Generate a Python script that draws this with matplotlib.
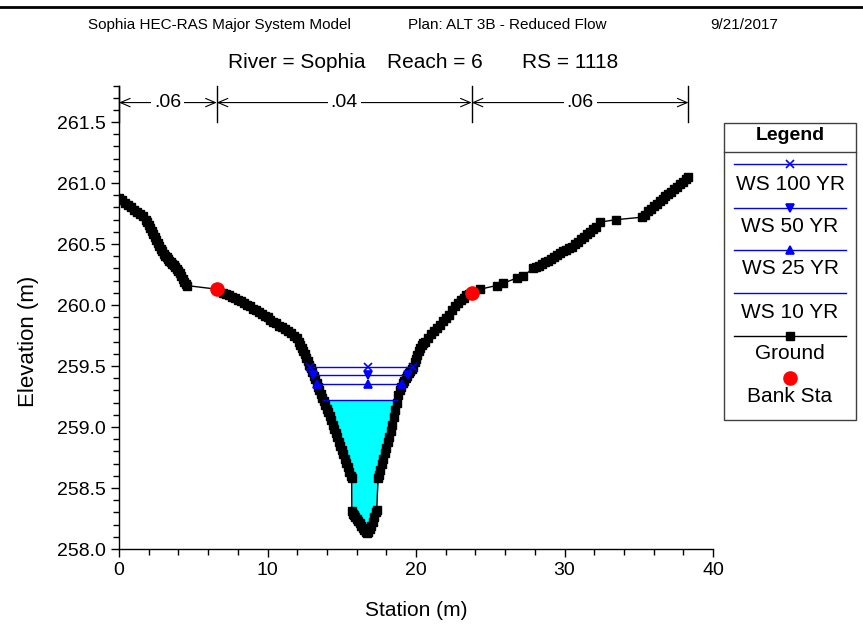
import numpy as np
import matplotlib
matplotlib.use("Agg")
import matplotlib.pyplot as plt
from matplotlib.lines import Line2D
from matplotlib.patches import Rectangle
from matplotlib.ticker import MultipleLocator, FormatStrFormatter

# ---------------- data ----------------
station = [0.0, 0.2, 0.4, 0.6, 0.8, 1.0, 1.2, 1.4, 1.6,
           1.8, 1.9, 2.0, 2.1, 2.2, 2.3, 2.4, 2.5, 2.6, 2.7, 2.8, 2.9,
           3.0, 3.1, 3.2, 3.3, 3.4, 3.5, 3.6, 3.7, 3.8, 3.9, 4.0, 4.1, 4.2, 4.3,
           4.4, 4.5, 4.56,
           6.58,
           7.0, 7.2, 7.4, 7.6, 7.8, 8.0, 8.2, 8.4, 8.6, 8.8, 9.0, 9.2, 9.4, 9.6, 9.8,
           10.0, 10.2, 10.4, 10.6, 10.8, 11.0, 11.2, 11.4, 11.6, 11.8,
           12.0, 12.1, 12.2, 12.3, 12.4, 12.5, 12.6, 12.7, 12.8, 12.9,
           13.0, 13.1, 13.2, 13.3, 13.4, 13.5, 13.6, 13.7, 13.8, 13.9,
           14.0, 14.1, 14.2, 14.3, 14.4, 14.5, 14.6, 14.7, 14.8, 14.9,
           15.0, 15.1, 15.2, 15.3, 15.4, 15.5, 15.6, 15.67,
           15.68, 15.75, 15.8, 15.9, 16.0, 16.1, 16.2, 16.3, 16.4, 16.5, 16.6,
           16.7, 16.8, 16.9, 17.0, 17.1, 17.2, 17.3, 17.35,
           17.45, 17.5, 17.6, 17.7, 17.8, 17.9, 18.0, 18.1, 18.2, 18.3, 18.4,
           18.5, 18.6, 18.7, 18.8, 18.9, 19.0, 19.1, 19.2, 19.3, 19.4, 19.5,
           19.6, 19.7, 19.8, 19.9, 20.0, 20.1, 20.2, 20.3, 20.4, 20.5, 20.6,
           20.8, 21.0, 21.2, 21.4, 21.6, 21.8, 22.0,
           22.2, 22.4, 22.6, 22.8, 23.0, 23.2, 23.4, 23.6, 23.75,
           24.31, 25.43, 25.88, 26.78, 27.22,
           27.9, 28.1, 28.3, 28.5, 28.7, 28.9, 29.1, 29.3, 29.5, 29.7, 29.9, 30.1,
           30.3, 30.5, 30.7, 30.9, 31.1, 31.3, 31.5, 31.7, 31.9, 32.1, 32.39,
           33.47,
           35.2, 35.4, 35.6, 35.8, 36.0, 36.2, 36.4, 36.6, 36.8, 37.0, 37.2, 37.4,
           37.6, 37.8, 38.0, 38.2, 38.35]
ground = [260.88, 260.86, 260.84, 260.82, 260.80, 260.78, 260.76, 260.75, 260.73,
          260.70, 260.68, 260.66, 260.635, 260.61, 260.585, 260.56, 260.535,
          260.51, 260.485, 260.46, 260.44,
          260.42, 260.405, 260.39, 260.375, 260.36, 260.35, 260.34, 260.325,
          260.31, 260.295, 260.28, 260.26, 260.24, 260.215, 260.19, 260.17, 260.16,
          260.13,
          260.10, 260.09, 260.08, 260.07, 260.06, 260.04, 260.03, 260.02, 260.00,
          259.99, 259.97, 259.96, 259.94, 259.93, 259.91, 259.90, 259.88, 259.86,
          259.85, 259.83, 259.82, 259.80, 259.79, 259.77, 259.75,
          259.73, 259.70, 259.67, 259.645, 259.62, 259.595, 259.57, 259.54,
          259.51, 259.48,
          259.45, 259.42, 259.39, 259.36, 259.33, 259.30, 259.27, 259.24, 259.21,
          259.18,
          259.15, 259.12, 259.09, 259.055, 259.02, 258.985, 258.95, 258.915,
          258.88, 258.845,
          258.81, 258.775, 258.74, 258.705, 258.67, 258.635, 258.60, 258.58,
          258.31, 258.29, 258.28, 258.265, 258.25, 258.23, 258.21, 258.19, 258.17,
          258.155, 258.14,
          258.13, 258.14, 258.165, 258.19, 258.225, 258.26, 258.30, 258.32,
          258.58, 258.61, 258.65, 258.70, 258.74, 258.79, 258.83, 258.88, 258.92,
          258.97, 259.02,
          259.08, 259.14, 259.20, 259.26, 259.30, 259.33, 259.36, 259.38, 259.40,
          259.42, 259.44,
          259.46, 259.475, 259.49, 259.53, 259.56, 259.59, 259.62, 259.645,
          259.67, 259.685, 259.70,
          259.73, 259.76, 259.79, 259.81, 259.84, 259.87, 259.89,
          259.92, 259.96, 259.99, 260.02, 260.04, 260.06, 260.08, 260.09, 260.10,
          260.13, 260.16, 260.18, 260.22, 260.24,
          260.30, 260.31, 260.32, 260.34, 260.35, 260.36, 260.38, 260.39, 260.41,
          260.43, 260.44, 260.45, 260.47, 260.48, 260.50, 260.52, 260.54, 260.56,
          260.58, 260.60, 260.62, 260.64, 260.68,
          260.70,
          260.72, 260.74, 260.77, 260.79, 260.81, 260.83, 260.85, 260.87, 260.89,
          260.91, 260.93, 260.95, 260.97, 260.99, 261.01, 261.03, 261.05]

bank_station = [6.58, 23.75]
bank_elev = [260.13, 260.10]

ws_names = ["WS 100 YR", "WS 50 YR", "WS 25 YR", "WS 10 YR"]
ws_elev = [259.49, 259.43, 259.35, 259.22]
ws_markers = ["x", "v", "^", None]

n_values = [".06", ".04", ".06"]
n_breaks = [0.0, 6.58, 23.75, 38.35]

title1 = ["Sophia HEC-RAS Major System Model", "Plan: ALT 3B - Reduced Flow", "9/21/2017"]
title2 = ["River = Sophia", "Reach = 6", "RS = 1118"]

# ---------------- figure ----------------
W, H = 863, 626
fig = plt.figure(figsize=(W / 100, H / 100), dpi=100)
base_font = ["Liberation Sans", "DejaVu Sans"]
plt.rcParams["font.family"] = base_font


def fx(x):
    return x / W


def fy(y):
    return 1 - y / H


ax = fig.add_axes([fx(119), fy(549), fx(713) - fx(119), fy(85.5) - fy(549)])
ax.set_xlim(0, 40)
ax.set_ylim(258.0, 261.8)

st = np.array(station)
gr = np.array(ground)


def extents(level):
    below = np.where(gr < level)[0]
    i0, i1 = below[0], below[-1]
    xl = np.interp(level, [gr[i0], gr[i0 - 1]], [st[i0], st[i0 - 1]])
    xr = np.interp(level, [gr[i1], gr[i1 + 1]], [st[i1], st[i1 + 1]])
    return xl, xr


x_mid = st[np.argmin(gr)] + 0.07

# fill below lowest profile
low = ws_elev[-1]
ax.fill_between(st, gr, low, where=gr <= low, interpolate=True,
                color="#00FFFF", lw=0, zorder=1)

# ground
ax.plot(st, gr, color="black", lw=1, marker="s", ms=5.2, mfc="black", mec="black",
        zorder=3)

# water surfaces
for name, lev, mk in zip(ws_names, ws_elev, ws_markers):
    xl, xr = extents(lev)
    ax.plot([xl, xr], [lev, lev], color="#0000FF", lw=1, zorder=4)
    if mk is not None:
        ax.plot([xl, x_mid, xr], [lev, lev, lev], ls="none", marker=mk,
                color="#0000FF", ms=6, mew=1.2, zorder=5)

# bank stations
ax.plot(bank_station, bank_elev, ls="none", marker="o", ms=9.5, color="#FF0000",
        mec="#FF0000", zorder=6)

# axes styling
for s in ["top", "right"]:
    ax.spines[s].set_visible(False)
ax.spines["left"].set_linewidth(1)
ax.spines["bottom"].set_linewidth(1)
ax.xaxis.set_major_locator(MultipleLocator(10))
ax.xaxis.set_minor_locator(MultipleLocator(2))
ax.yaxis.set_major_locator(MultipleLocator(0.5))
ax.yaxis.set_minor_locator(MultipleLocator(0.1))
ax.yaxis.set_major_formatter(FormatStrFormatter("%.1f"))
ax.tick_params(which="major", direction="out", length=6, width=1, labelsize=14,
               colors="black")
ax.tick_params(which="minor", direction="out", length=4, width=1, colors="black")
yt = ax.get_yticks()
ax.set_yticks([t for t in yt if t <= 261.55])
ax.set_ylim(258.0, 261.8)
ax.set_xlabel("Station (m)", fontsize=15, labelpad=16)
ax.set_ylabel("Elevation (m)", fontsize=16)
ax.yaxis.set_label_coords(-0.135, 0.449)

# Manning's n
n_top, n_bot, n_arrow = 261.8, 261.5, 261.66
for xb in n_breaks:
    ax.plot([xb, xb], [n_bot, n_top], color="black", lw=1, clip_on=False, zorder=7)
for i, lab in enumerate(n_values):
    x0, x1 = n_breaks[i], n_breaks[i + 1]
    ax.annotate("", xy=(x1, n_arrow), xytext=(x0, n_arrow),
                arrowprops=dict(arrowstyle="<->,head_length=0.7,head_width=0.3",
                                lw=0.8, color="black", shrinkA=0, shrinkB=0),
                annotation_clip=False, zorder=7)
    ax.text((x0 + x1) / 2, n_arrow, lab, ha="center", va="center", fontsize=14,
            zorder=8, bbox=dict(boxstyle="square,pad=0.15", fc="white", ec="none"))

# titles
fig.add_artist(Line2D([0, 1], [fy(7), fy(7)], transform=fig.transFigure,
                      color="black", lw=2))
for txt, xp in zip(title1, [88, 408, 710]):
    fig.text(fx(xp), fy(25), txt, ha="left", va="center", fontsize=11)
for txt, xp in zip(title2, [228, 387, 522]):
    fig.text(fx(xp), fy(62), txt, ha="left", va="center", fontsize=15)

# legend
fig.add_artist(Rectangle((fx(724), fy(420)), fx(856) - fx(724), fy(123) - fy(420),
                         transform=fig.transFigure, fill=False, ec="#404040", lw=1))
fig.add_artist(Line2D([fx(724), fx(856)], [fy(152), fy(152)],
                      transform=fig.transFigure, color="#404040", lw=1))
fig.text(fx(790), fy(136), "Legend", ha="center", va="center", fontsize=14,
         fontweight="bold")
leg_line_y = [164, 208, 250, 293]
leg_text_y = [184, 227, 269, 312]
for name, mk, ly, ty in zip(ws_names, ws_markers, leg_line_y, leg_text_y):
    fig.add_artist(Line2D([fx(734), fx(846)], [fy(ly), fy(ly)],
                          transform=fig.transFigure, color="#0000FF", lw=1))
    if mk is not None:
        fig.add_artist(Line2D([fx(790)], [fy(ly)], transform=fig.transFigure,
                              ls="none", marker=mk, color="#0000FF", ms=6, mew=1.2))
    fig.text(fx(790), fy(ty), name, ha="center", va="center", fontsize=15)
fig.add_artist(Line2D([fx(734), fx(846)], [fy(336), fy(336)],
                      transform=fig.transFigure, color="black", lw=1))
fig.add_artist(Line2D([fx(790)], [fy(336)], transform=fig.transFigure, ls="none",
                      marker="s", ms=6, color="black"))
fig.text(fx(790), fy(353), "Ground", ha="center", va="center", fontsize=15)
fig.add_artist(Line2D([fx(790)], [fy(378)], transform=fig.transFigure, ls="none",
                      marker="o", ms=9.5, color="#FF0000"))
fig.text(fx(790), fy(396), "Bank Sta", ha="center", va="center", fontsize=15)

fig.savefig("out.png", dpi=100)
